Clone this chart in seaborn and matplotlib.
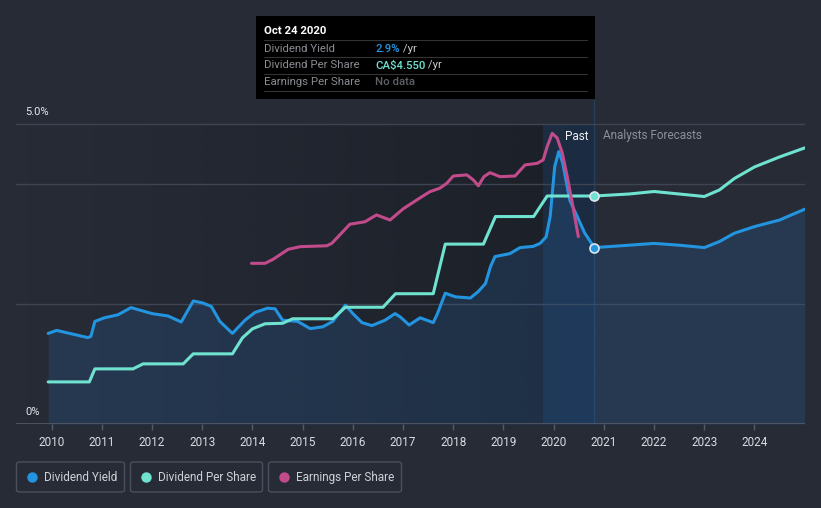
import numpy as np
import pandas as pd
import matplotlib
matplotlib.use("Agg")
import matplotlib.pyplot as plt
import seaborn as sns
from matplotlib.patches import FancyBboxPatch, Rectangle
from matplotlib.lines import Line2D

# ---------------- data ----------------
yield_years = [2009.93, 2010.10, 2010.72, 2010.78, 2010.86, 2011.05, 2011.32, 2011.58, 2012.00,
               2012.32, 2012.58, 2012.82, 2013.00, 2013.18, 2013.35, 2013.60, 2013.85, 2014.05,
               2014.30, 2014.45, 2014.60, 2014.90, 2015.15, 2015.40, 2015.60, 2015.85, 2016.00,
               2016.18, 2016.38, 2016.64, 2016.84, 2016.95, 2017.12, 2017.34, 2017.60, 2017.68,
               2017.84, 2018.04, 2018.34, 2018.50, 2018.64, 2018.74, 2018.83, 2019.13, 2019.33,
               2019.59, 2019.73, 2019.85, 2019.93, 2020.02, 2020.10, 2020.18, 2020.32, 2020.62,
               2020.81]
yield_pct = [1.51, 1.56, 1.44, 1.46, 1.71, 1.77, 1.82, 1.94, 1.84,
             1.80, 1.70, 2.05, 2.02, 1.96, 1.71, 1.51, 1.73, 1.86,
             1.93, 1.92, 1.73, 1.71, 1.59, 1.62, 1.71, 1.98, 1.84,
             1.69, 1.64, 1.73, 1.84, 1.78, 1.65, 1.77, 1.69, 1.83,
             2.18, 2.12, 2.10, 2.21, 2.34, 2.62, 2.79, 2.84, 2.94,
             2.96, 3.01, 3.12, 3.46, 4.29, 4.54, 4.35, 3.73, 3.18,
             2.94]

dps_years = [2009.93, 2010.75, 2010.86, 2011.62, 2011.82, 2012.62, 2012.82, 2013.60, 2013.80,
             2014.00, 2014.25, 2014.60, 2014.80, 2015.60, 2015.85, 2016.60, 2016.85, 2017.60,
             2017.84, 2018.60, 2018.84, 2019.60, 2019.87, 2020.81]
dps_cad = [0.84, 0.84, 1.10, 1.10, 1.20, 1.20, 1.40, 1.40, 1.72,
           1.90, 2.00, 2.01, 2.10, 2.10, 2.33, 2.33, 2.60, 2.60,
           3.59, 3.59, 4.14, 4.14, 4.55, 4.55]

forecast_years = [2020.81, 2021.5, 2022.0, 2022.5, 2023.0, 2023.3, 2023.6, 2024.0, 2024.5, 2025.0]
forecast_yield = [2.94, 2.98, 3.01, 2.98, 2.94, 3.04, 3.18, 3.29, 3.40, 3.58]
forecast_dps = [4.55, 4.59, 4.64, 4.59, 4.54, 4.67, 4.90, 5.13, 5.33, 5.51]

eps_years = [2013.98, 2014.25, 2014.41, 2014.71, 2014.95, 2015.48, 2015.58, 2015.94, 2016.24,
             2016.47, 2016.74, 2017.00, 2017.34, 2017.53, 2017.73, 2017.87, 2018.00, 2018.27,
             2018.40, 2018.50, 2018.61, 2018.73, 2018.93, 2019.23, 2019.43, 2019.67, 2019.79,
             2019.87, 2019.97, 2020.07, 2020.17, 2020.27, 2020.37, 2020.49]
eps_cad = [7.23, 7.23, 7.41, 7.86, 7.98, 8.02, 8.13, 8.99, 9.10,
           9.41, 9.18, 9.68, 10.18, 10.45, 10.61, 10.83, 11.16, 11.21,
           10.98, 10.72, 11.13, 11.31, 11.13, 11.16, 11.66, 11.73, 11.88,
           12.48, 13.08, 12.87, 12.20, 11.13, 9.95, 8.43]

x_ticks = list(range(2010, 2025))
y_labels = ["5.0%", "0%"]
legend_labels = ["Dividend Yield", "Dividend Per Share", "Earnings Per Share"]
tooltip_date = "Oct 24 2020"
tooltip_rows = [("Dividend Yield", "2.9%", " /yr"),
                ("Dividend Per Share", "CA\\$4.550", " /yr"),
                ("Earnings Per Share", "No data", "")]
now_year = 2020.81
hover_start = 2019.79

# ---------------- style ----------------
BG = "#262b36"
BLUE = "#2394df"
TEAL = "#6fe3d0"
PINK = "#c24b8c"
GRID = "#3e4451"
W, H = 821, 508

sns.set_theme(style="dark")
plt.rcParams["font.family"] = ["Roboto", "DejaVu Sans"]

fig = plt.figure(figsize=(W / 100, H / 100), dpi=100, facecolor=BG)


def fx(px):
    return px / W


def fy(py):
    return 1 - py / H


ax = fig.add_axes([fx(16), fy(424), (805 - 16) / W, (424 - 100) / H])
ax.set_facecolor(BG)
XMIN, XMAX = 2009.289, 2025.006
YTOP = 5.4
ax.set_xlim(XMIN, XMAX)
ax.set_ylim(0, YTOP)
for s in ax.spines.values():
    s.set_visible(False)
ax.grid(False)

# past darkening gradient
grad = np.zeros((1, 256, 4))
c = np.array([16, 19, 24]) / 255
grad[..., :3] = c
grad[..., 3] = np.linspace(0.0, 0.55, 256) ** 1.2
ax.imshow(grad, extent=[XMIN, now_year, 0, 5.0], aspect="auto", zorder=0, interpolation="bicubic")

# hover band
ax.axvspan(hover_start, now_year, ymin=0, ymax=5.0 / YTOP, color="#1d4d85", alpha=0.28, lw=0, zorder=1)
ax.axvline(now_year, color="#25405f", lw=1, zorder=1)

# gridlines
for gv in [5.0, 4.0, 2.0]:
    ax.axhline(gv, color=GRID, lw=1, zorder=1)
ax.axhline(0, color="#555b66", lw=1.2, zorder=5)

# yield fill + lines
all_years = yield_years + forecast_years[1:]
all_yield = yield_pct + forecast_yield[1:]
ax.fill_between(all_years, 0, all_yield, color="#2a6bb0", alpha=0.22, lw=0, zorder=2)
df_y = pd.DataFrame({"year": yield_years, "value": yield_pct})
df_yf = pd.DataFrame({"year": forecast_years, "value": forecast_yield})
sns.lineplot(data=df_y, x="year", y="value", ax=ax, color=BLUE, lw=2.2, zorder=4)
sns.lineplot(data=df_yf, x="year", y="value", ax=ax, color=BLUE, lw=2.2, zorder=4)
ax.plot([now_year], [yield_pct[-1]], "o", ms=6.5, mfc=BLUE, mec="#dde6f0", mew=1.2, zorder=6)

ax.set_xticks(x_ticks)
ax.set_xticklabels([str(t) for t in x_ticks], color="#d9dce1", fontsize=8.5)
ax.tick_params(axis="x", length=4, width=1, color="#555b66", pad=5, bottom=True)
ax.set_yticks([])
ax.set_xlabel("")
ax.set_ylabel("")

# DPS axis
ax_d = ax.twinx()
ax_d.set_ylim(0, 6.466)
ax_d.set_xlim(XMIN, XMAX)
ax_d.axis("off")
df_d = pd.DataFrame({"year": dps_years, "value": dps_cad})
df_df = pd.DataFrame({"year": forecast_years, "value": forecast_dps})
sns.lineplot(data=df_d, x="year", y="value", ax=ax_d, color=TEAL, lw=2.2)
sns.lineplot(data=df_df, x="year", y="value", ax=ax_d, color=TEAL, lw=2.2)
ax_d.plot([now_year], [dps_cad[-1]], "o", ms=6.5, mfc=TEAL, mec="#dde6f0", mew=1.2, zorder=6)

# EPS axis
ax_e = ax.twinx()
ax_e.set_ylim(0, 14.58)
ax_e.set_xlim(XMIN, XMAX)
ax_e.axis("off")
df_e = pd.DataFrame({"year": eps_years, "value": eps_cad})
sns.lineplot(data=df_e, x="year", y="value", ax=ax_e, color=PINK, lw=2.2)

# axis texts
fig.text(fx(25), fy(112), y_labels[0], color="#e6e8eb", fontsize=8, va="center", ha="left")
fig.text(fx(25), fy(412), y_labels[1], color="#e6e8eb", fontsize=8, va="center", ha="left")
fig.text(fx(588), fy(136), "Past", color="#f0f0f0", fontsize=8.5, va="center", ha="right")
fig.text(fx(603), fy(136), "Analysts Forecasts", color="#8b909a", fontsize=8.5, va="center", ha="left")

# tooltip
fig.add_artist(Rectangle((fx(256), fy(99)), (595 - 256) / W, (99 - 16) / H,
                         transform=fig.transFigure, facecolor="#000000", edgecolor="none", zorder=10))
fig.text(fx(264), fy(31), tooltip_date, color="white", fontsize=8.2, fontweight="bold",
         va="center", ha="left", zorder=11)
for yy in [40, 57, 74, 91]:
    fig.add_artist(Line2D([fx(264), fx(587)], [fy(yy), fy(yy)], transform=fig.transFigure,
                          color="#333333", lw=0.8, zorder=11))
val_colors = [BLUE, TEAL, "#5d6066"]
for i, (lab, val, unit) in enumerate(tooltip_rows):
    yy = 48.5 + 17 * i
    fig.text(fx(264), fy(yy), lab, color="#8a8d93", fontsize=8.2, va="center", ha="left", zorder=11)
    t = fig.text(fx(375), fy(yy), val, color=val_colors[i], fontsize=8.2, va="center", ha="left",
                 zorder=11, fontweight="medium")
    if unit:
        fig.canvas.draw()
        bb = t.get_window_extent()
        fig.text(bb.x1 / W, fy(yy), unit, color="#c8cacf", fontsize=8.2, va="center", ha="left", zorder=11)

# legend
boxes = [(16, 125), (130, 263), (268, 402)]
colors = [BLUE, TEAL, PINK]
for (x0, x1), col, lab in zip(boxes, colors, legend_labels):
    fig.add_artist(FancyBboxPatch((fx(x0 + 0.5), fy(492)), (x1 - x0 - 1) / W, 30 / H,
                                  boxstyle="round,pad=0,rounding_size=0.004",
                                  transform=fig.transFigure, facecolor="none",
                                  edgecolor="#4a505d", lw=1, zorder=10))
    fig.add_artist(Line2D([fx(x0 + 16)], [fy(477)], marker="o", ms=6.5, color=col,
                          transform=fig.transFigure, zorder=11))
    fig.text(fx(x0 + 28), fy(477.5), lab, color="#cfd2d8", fontsize=8.5, va="center", ha="left", zorder=11)

fig.savefig("out.png", dpi=100, facecolor=BG)
